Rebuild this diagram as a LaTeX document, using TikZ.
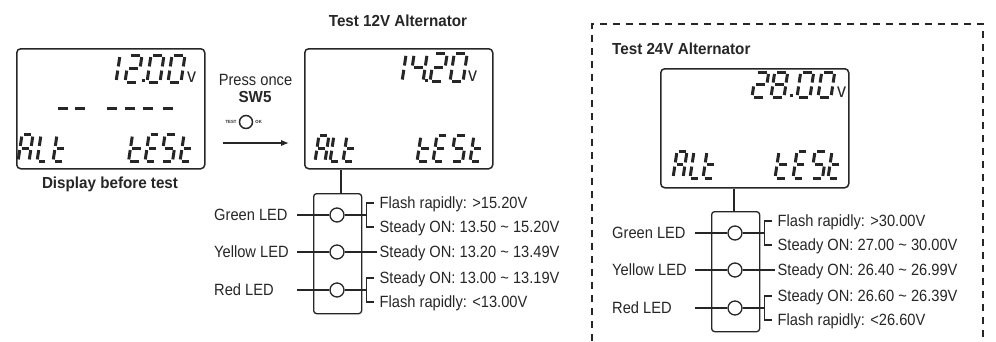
\documentclass[tikz,border=0pt]{standalone}
\usepackage{fontspec}
\setmainfont{Liberation Sans}[FakeStretch=0.9]
\newfontfamily\regf{Liberation Sans}[FakeStretch=0.9]
\newfontfamily\boldf{Liberation Sans}[FakeStretch=0.95]
\usetikzlibrary{arrows.meta}
\definecolor{ink}{HTML}{262626}
\tikzset{
 seg/.style={line width=3pt, draw=ink, line cap=butt},
 lcdbox/.style={draw=ink, line width=1.5pt, rounded corners=4pt, minimum width=188pt, minimum height=120pt, inner sep=0, anchor=north west},
 ledbox/.style={draw=ink, line width=1.3pt, rounded corners=3pt, minimum width=48pt, minimum height=120pt, inner sep=0, anchor=north west},
 led/.style={circle, draw=ink, line width=1.3pt, minimum size=14pt, inner sep=0},
 wire/.style={draw=ink, line width=1.3pt},
 txt/.style={text=ink, font=\fontsize{16.3}{18}\regf, inner sep=0, text height=11.7pt, text depth=0pt},
 btxt/.style={txt, font=\fontsize{16}{18}\boldf\bfseries},
 unit/.style={text=ink, font=\fontsize{20}{20}\regf, inner sep=0, anchor=base west},
 tiny/.style={text=ink, font=\fontsize{4.5}{5}\boldf\bfseries, inner sep=0},
}
% seven-segment pieces (local cell: width 13, height 26, origin bottom-left)
\newcommand\sgA{\draw[seg] (2,-26) -- (11,-26);}
\newcommand\sgB{\draw[seg] (13,-24) -- (13,-15);}
\newcommand\sgC{\draw[seg] (13,-11) -- (13,-2);}
\newcommand\sgD{\draw[seg] (2,0) -- (11,0);}
\newcommand\sgE{\draw[seg] (0,-2) -- (0,-11);}
\newcommand\sgF{\draw[seg] (0,-15) -- (0,-24);}
\newcommand\sgG{\draw[seg] (2,-13) -- (11,-13);}
\newcommand\segchar[5]{\begin{scope}[shift={(#1,#2)},xslant=0.15,xscale=#3/13,yscale=#4/26]\foreach \sgn in {#5}{\csname sg\sgn\endcsname}\end{scope}}
\newcommand\decpt[2]{\fill[ink] (#1-1.5,#2-3) rectangle (#1+1.5,#2);}
% LED unit: #1 prefix, #2 x, #3 y of LED box top-left, #4 main box name, #5 connector x
\newcommand\ledunit[5]{%
 \node[ledbox] (#1box) at (#2,#3) {};
 \coordinate (#1conn) at (#5,#3);
 \draw[wire] (#4.south -| #1conn) -- (#1box.north -| #1conn);
 \node[led] (#1g) at (#2+24,#3+22) {};
 \node[led] (#1y) at (#2+24,#3+59) {};
 \node[led] (#1r) at (#2+24,#3+97) {};
 \node[txt,anchor=west] (#1gl) at (#2-99,#3+22) {Green LED};
 \node[txt,anchor=west] (#1yl) at (#2-99,#3+59) {Yellow LED};
 \node[txt,anchor=west] (#1rl) at (#2-99,#3+97) {Red LED};
 \coordinate (#1gw) at (#2-16,#3+22);
 \coordinate (#1yw) at (#2-16,#3+59);
 \coordinate (#1rw) at (#2-16,#3+97);
 \draw[wire] (#1gw) -- (#1g.west);
 \draw[wire] (#1yw) -- (#1y.west);
 \draw[wire] (#1rw) -- (#1r.west);
 \node[txt,anchor=west] (#1t1) at (#2+66.5,#3+10) {\tA};
 \node[txt,anchor=west] (#1t2) at (#2+66.5,#3+34) {\tB};
 \node[txt,anchor=west] (#1t3) at (#2+66.5,#3+59) {\tC};
 \node[txt,anchor=west] (#1t4) at (#2+66.5,#3+85) {\tD};
 \node[txt,anchor=west] (#1t5) at (#2+66.5,#3+109) {\tE};
 \coordinate (#1gb) at (#2+53.5,#3+22);
 \coordinate (#1rb) at (#2+53.5,#3+97);
 \draw[wire] (#1g.east) -- (#1gb);
 \draw[wire] (#1r.east) -- (#1rb);
 \draw[wire] ([xshift=-5.5pt]#1t1.west) -- (#1t1.west -| #1gb) -- (#1t2.west -| #1gb) -- ([xshift=-5.5pt]#1t2.west);
 \draw[wire] ([xshift=-5.5pt]#1t4.west) -- (#1t4.west -| #1rb) -- (#1t5.west -| #1rb) -- ([xshift=-5.5pt]#1t5.west);
 \draw[wire] (#1y.east) -- ([xshift=-3pt]#1t3.west);
}
\begin{document}
\begin{tikzpicture}[x=1pt,y=-1pt]
\useasboundingbox (0,0) rectangle (996,341);
% ---------- display before test ----------
\node[lcdbox] (box1) at (16,48) {};
\segchar{103}{82}{13}{27}{B,C}
\segchar{125}{82}{13}{27}{A,B,G,E,D}
\decpt{143}{82}
\segchar{147}{82}{13}{27}{A,B,C,D,E,F}
\segchar{168}{82}{13}{27}{A,B,C,D,E,F}
\node[unit] (v1) at (187,82) {v};
\foreach \dx in {58,75,107,124.5,142.5,163}{\draw[seg] (\dx,108) -- (\dx+10,108);}
\segchar{18}{161.5}{11}{27}{A,B,C,E,F,G}
\segchar{37}{161.5}{10}{27}{D,E,F}
\segchar{53}{161.5}{11}{27}{D,E,F,G}
\segchar{128.5}{161.5}{12}{27}{D,E,F,G}
\segchar{145}{161.5}{11}{27}{A,D,E,F,G}
\segchar{161}{161.5}{11.5}{27}{A,C,D,F,G}
\segchar{180}{161.5}{11}{27}{D,E,F,G}
\node[btxt] (cap1) at (110,183) {Display before test};
% ---------- press SW5 ----------
\node[txt] (press) at (255.5,80) {Press once};
\node[btxt] (sw5) at (255,97) {SW5};
\node[led, minimum size=13pt, line width=1.5pt] (btn) at (246,122) {};
\node[tiny, anchor=east] (testlbl) at ([xshift=-2pt]btn.west) {TEST};
\node[tiny, anchor=west] (oklbl) at ([xshift=2pt]btn.east) {OK};
\coordinate (a1) at (223,143);
\coordinate (a2) at (289,143);
\draw[wire, line width=1.5pt, -{Latex[length=8pt,width=6.5pt]}] (a1) -- (a2);
% ---------- 12V ----------
\node[btxt] (t12) at (398,21) {Test 12V Alternator};
\node[lcdbox] (box2) at (304,48) {};
\segchar{389}{81.7}{13}{28}{B,C}
\segchar{410}{81.7}{13}{28}{F,G,B,C}
\decpt{426}{81.7}
\segchar{430}{81.7}{13}{28}{A,B,G,E,D}
\segchar{450}{81.7}{13}{28}{A,B,C,D,E,F}
\node[unit] (v2) at (468,81.7) {v};
\segchar{315}{161.7}{10}{26}{A,B,C,E,F,G}
\segchar{330}{161.7}{9}{26}{D,E,F}
\segchar{343}{161.7}{11}{26}{D,E,F,G}
\segchar{417}{161.7}{12}{26}{D,E,F,G}
\segchar{433}{161.7}{11}{26}{A,D,E,F,G}
\segchar{451}{161.7}{11.5}{26}{A,C,D,F,G}
\segchar{470}{161.7}{11}{26}{D,E,F,G}
\def\tA{Flash rapidly: >15.20V}
\def\tB{Steady ON: 13.50 \textasciitilde\ 15.20V}
\def\tC{Steady ON: 13.20 \textasciitilde\ 13.49V}
\def\tD{Steady ON: 13.00 \textasciitilde\ 13.19V}
\def\tE{Flash rapidly: <13.00V}
\ledunit{u}{313}{193}{box2}{341}
% ---------- 24V ----------
\draw[ink, line width=1.3pt, dash pattern=on 7pt off 6pt] (592,341) -- (592,24) -- (983,24) -- (983,341);
\node[btxt, anchor=west] (t24) at (612,49) {Test 24V Alternator};
\node[lcdbox, minimum height=119pt] (box3) at (660,68) {};
\segchar{752}{97}{13}{25}{A,B,G,E,D}
\segchar{771}{97}{13}{25}{A,B,C,D,E,F,G}
\decpt{791}{97}
\segchar{797}{97}{13}{25}{A,B,C,D,E,F}
\segchar{818}{97}{13}{25}{A,B,C,D,E,F}
\node[unit] (v3) at (837,97) {v};
\segchar{673}{178}{10}{27}{A,B,C,E,F,G}
\segchar{690}{178}{9}{27}{D,E,F}
\segchar{703}{178}{11}{27}{D,E,F,G}
\segchar{775}{178}{12}{27}{D,E,F,G}
\segchar{793}{178}{11}{27}{A,D,E,F,G}
\segchar{811}{178}{11.5}{27}{A,C,D,F,G}
\segchar{828}{178}{11}{27}{D,E,F,G}
\def\tA{Flash rapidly: >30.00V}
\def\tB{Steady ON: 27.00 \textasciitilde\ 30.00V}
\def\tC{Steady ON: 26.40 \textasciitilde\ 26.99V}
\def\tD{Steady ON: 26.60 \textasciitilde\ 26.39V}
\def\tE{Flash rapidly: <26.60V}
\ledunit{w}{711}{211}{box3}{734}
\end{tikzpicture}
\end{document}
